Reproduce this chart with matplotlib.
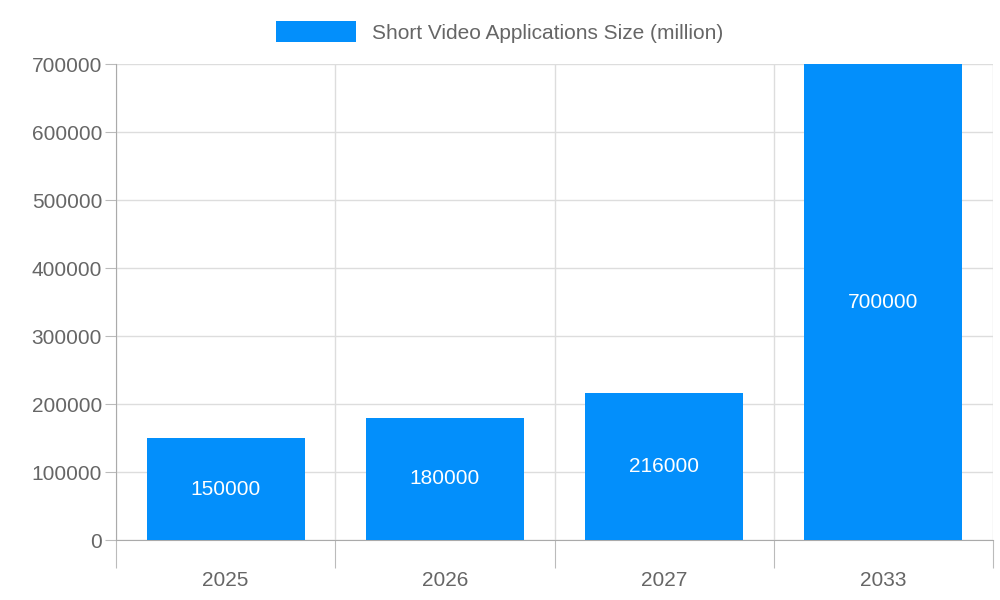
import matplotlib
matplotlib.use("Agg")
import matplotlib.pyplot as plt
from matplotlib.ticker import FixedLocator, NullFormatter

categories = ["2025", "2026", "2027", "2033"]
values = [150000, 180000, 216000, 700000]
series_name = "Short Video Applications Size (million)"
yticks = [0, 100000, 200000, 300000, 400000, 500000, 600000, 700000]

plt.rcParams['font.family'] = ['Liberation Sans', 'DejaVu Sans']
fig = plt.figure(figsize=(10, 6), dpi=100)
ax = fig.add_axes([0.116, 0.1, 0.877, 0.793])
x = list(range(len(categories)))
bars = ax.bar(x, values, width=0.72, color="#038ffb", label=series_name, zorder=3)
for xi, v in zip(x, values):
    ax.text(xi, v / 2, f"{v}", ha="center", va="center", color="white", fontsize=15, zorder=4)
ax.set_xlim(-0.5, len(categories) - 0.5)
ax.set_ylim(0, 700000)
ax.set_yticks(yticks)
ax.set_yticklabels([str(t) for t in yticks])
ax.xaxis.set_major_locator(FixedLocator([i - 0.5 for i in range(len(categories) + 1)]))
ax.xaxis.set_major_formatter(NullFormatter())
ax.xaxis.set_minor_locator(FixedLocator(x))
ax.set_xticklabels(categories, minor=True)
ax.tick_params(axis="x", which="major", length=20, color="#bbbbbb")
ax.tick_params(axis="x", which="minor", length=0, pad=22, labelsize=15, labelcolor="#666666")
ax.tick_params(axis="y", length=8, color="#bbbbbb", labelsize=15, labelcolor="#666666", pad=2)
ax.grid(True, which="major", color="#dddddd", linewidth=1, zorder=0)
for s in ["top", "right"]:
    ax.spines[s].set_visible(False)
ax.spines["left"].set_color("#aaaaaa")
ax.spines["bottom"].set_color("#aaaaaa")
fig.legend(handles=[bars], labels=[series_name], loc="center", bbox_to_anchor=(0.5, 0.947),
           frameon=False, fontsize=15, labelcolor="#666666", handlelength=3.8, handleheight=1.2)
fig.savefig("out.png", dpi=100)
